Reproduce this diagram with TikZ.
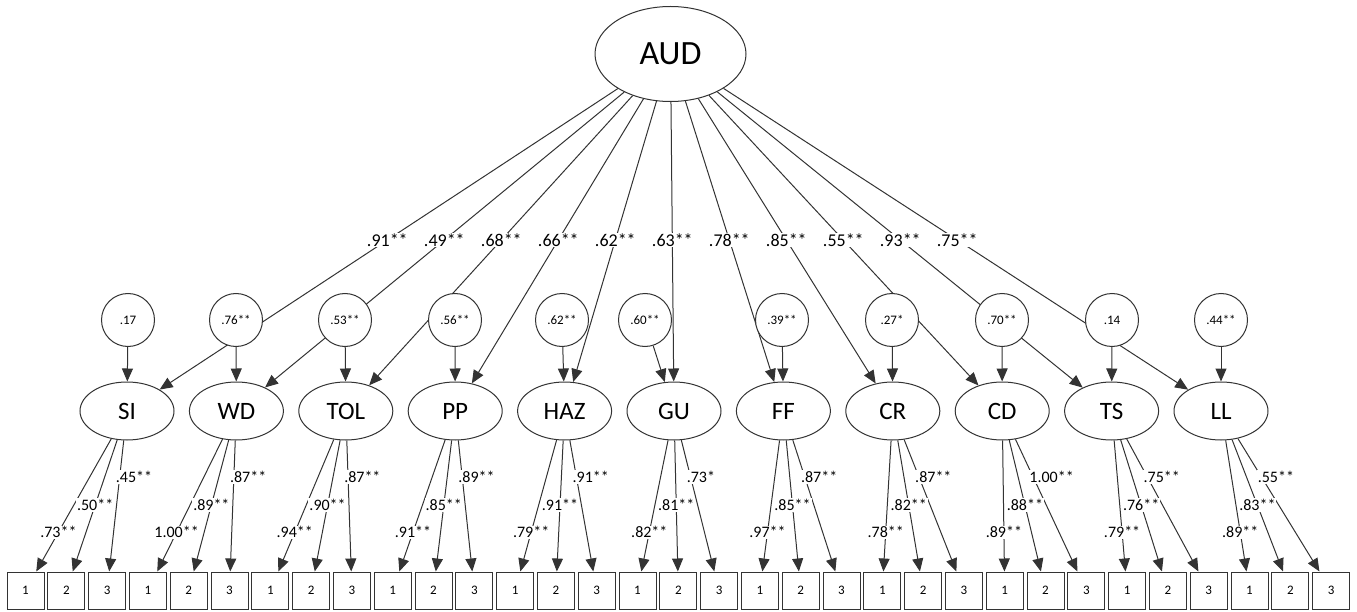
\documentclass[tikz,border=0pt]{standalone}
\usepackage{fontspec}
\setmainfont{Carlito}
\usetikzlibrary{arrows.meta,shapes,calc}
\tikzstyle{latent}=[ellipse,draw=black!80,fill=white,line width=1pt,minimum width=94pt,minimum height=58pt,inner sep=0pt,font=\fontsize{25}{25}\selectfont]
\tikzstyle{toplatent}=[latent,minimum width=151pt,minimum height=95pt,font=\fontsize{34}{34}\selectfont]
\tikzstyle{errvertex}=[circle,draw=black!80,fill=white,line width=1pt,minimum size=53pt,inner sep=0pt,font=\fontsize{13}{13}\selectfont]
\tikzstyle{item}=[rectangle,draw=black!80,fill=white,line width=1pt,minimum size=37pt,inner sep=0pt,font=\fontsize{13}{13}\selectfont]
\tikzstyle{edge}=[draw=black!80,line width=1pt,-{Triangle[length=13pt,width=11pt]}]
\tikzstyle{weight}=[fill=white,inner sep=1pt,font=\fontsize{16}{16}\selectfont]
\tikzstyle{bigweight}=[weight,font=\fontsize{18}{18}\selectfont]

\begin{document}
\begin{tikzpicture}[x=1pt,y=-1pt]
    \useasboundingbox (0,0) rectangle (1357,612);

    % first order factors
    \foreach \x/\name in {127/SI,236.4/WD,345.8/TOL,455.2/PP,564.6/HAZ,674/GU,783.4/FF,892.8/CR,1002.2/CD,1111.6/TS,1221/LL}
        \node[latent] (\name) at (\x,411) {\name};

    \node[toplatent] (AUD) at (670.5,54) {AUD};

    % items
    \foreach \i in {0,...,32}{
        \pgfmathsetmacro\bx{25.5+40.8*\i}
        \pgfmathtruncatemacro\k{mod(\i,3)+1}
        \node[item] (b\i) at (\bx,590.5) {\k};
    }

    % second order loadings
    \foreach \name/\w in {SI/.91**,WD/.49**,TOL/.68**,PP/.66**,HAZ/.62**,GU/.63**,FF/.78**,CR/.85**,CD/.55**,TS/.93**,LL/.75**}{
        \draw[edge] (AUD) -- (\name);
        \node[bigweight] at ($(AUD.center)!0.521!(\name.center)$) {\w};
    }

    % residuals
    \foreach \x/\name/\w in {128/SI/.17,236/WD/.76**,345/TOL/.53**,455/PP/.56**,562/HAZ/.62**,645/GU/.60**,782/FF/.39**,892/CR/.27*,1002/CD/.70**,1112/TS/.14,1221/LL/.44**}{
        \node[errvertex] (e\name) at (\x,320) {\w};
        \draw[edge] (e\name) -- (\name);
    }

    % Connect factors with items and draw weights
    \foreach \name/\la/\lb/\lc [count=\f from 0] in {SI/.73**/.50**/.45**,WD/1.00**/.89**/.87**,TOL/.94**/.90**/.87**,PP/.91**/.85**/.89**,HAZ/.79**/.91**/.91**,GU/.82**/.81**/.73*,FF/.97**/.85**/.87**,CR/.78**/.82**/.87**,CD/.89**/.88**/1.00**,TS/.79**/.76**/.75**,LL/.89**/.83**/.55**}{
        \pgfmathtruncatemacro\ba{3*\f}
        \pgfmathtruncatemacro\bb{3*\f+1}
        \pgfmathtruncatemacro\bc{3*\f+2}
        \draw[edge] (\name) -- (b\ba);
        \draw[edge] (\name) -- (b\bb);
        \draw[edge] (\name) -- (b\bc);
        \node[weight] at ($(\name.center)!0.676!(b\ba.center)$) {\la};
        \node[weight] at ($(\name.center)!0.525!(b\bb.center)$) {\lb};
        \node[weight,anchor=west,xshift=-5pt] at ($(\name.center)!0.369!(b\bc.center)$) {\lc};
    }
\end{tikzpicture}
\end{document}
